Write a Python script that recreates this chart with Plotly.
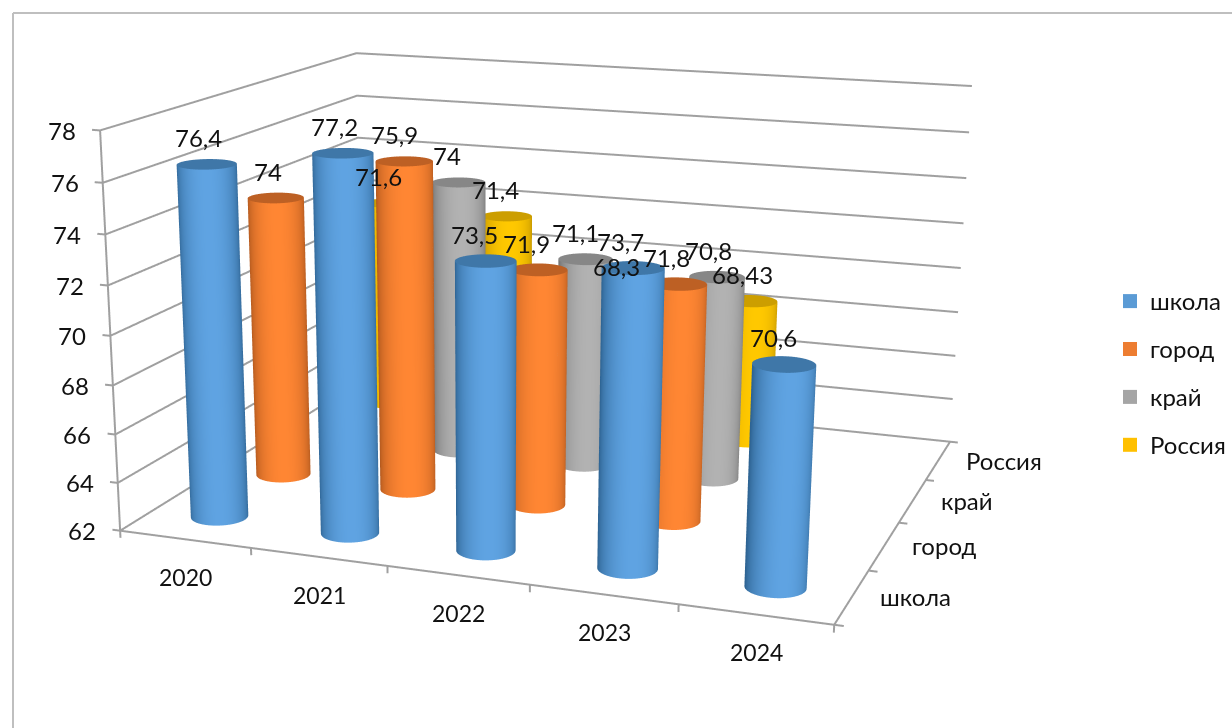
import numpy as np
import plotly.graph_objects as go

years = ["2020", "2021", "2022", "2023", "2024"]
series_names = ["школа", "город", "край", "Россия"]
shkola = [76.4, 77.2, 73.5, 73.7, 70.6]
gorod = [74, 75.9, 71.9, 71.8, None]
krai = [None, 74, 71.1, 70.8, None]
rossiya = [71.6, 71.4, 68.3, 68.43, None]
z_ticks = [62, 64, 66, 68, 70, 72, 74, 76, 78]

series_values = [shkola, gorod, krai, rossiya]
legend_colors = ["#5B9BD5", "#ED7D31", "#A5A5A5", "#FFC000"]
edge_colors = ["#2E6493", "#AD561D", "#6E6E6E", "#B58A00"]
light_colors = ["#5FA3E2", "#FF8633", "#B2B2B2", "#FFC800"]
cap_colors = ["#3F77A8", "#BD6024", "#878787", "#CC9E00"]
label_xshifts = [
    [-8, -8, -11, -13, -11],
    [-8, -10, -12, -11, 0],
    [0, -12, -10, -9, 0],
    [-11, -11, -10, -9, 0],
]

FONT = "Lato, 'Open Sans', sans-serif"
TEXT = "#111111"
GRID = "#A0A0A0"

# page geometry: the plot box is larger than the window so that the camera
# has the long focal length of the reference; it is offset by CSS below
W, H = 1416, 1903
OX, OY = 184, 510
px = lambda x: (x + OX) / W
py = lambda y: 1 - (y + OY) / H

K = 0.5
eye = dict(x=2.0746 * K, y=-6.072 * K, z=1.5427 * K)
center = dict(x=-0.0617 * K, y=-0.149 * K, z=-0.389 * K)
up = dict(x=-0.1038, y=0.2745, z=0.9559)

# hidden axis ranges are a little wider than the frame, so that tick marks fit
x_range = [-0.2, 5.2]
y_range = [-0.2, 4.2]
z_range = [61.5, 78.5]
aspect = dict(x=1.0 * 5.4 / 5, y=0.825 * 4.4 / 4, z=0.554 * 17 / 16)

R = 0.2
Ry = 0.194
theta = np.linspace(0, 2 * np.pi, 97)
view = np.arctan2(eye["y"], eye["x"])

fig = go.Figure()

# frame: grid lines on both walls, axis edges and tick marks
z0, z1 = z_ticks[0], z_ticks[-1]
fx, fy, fz = [], [], []
def seg(*pts):
    for p in pts:
        fx.append(p[0]); fy.append(p[1]); fz.append(p[2])
    fx.append(None); fy.append(None); fz.append(None)
for t in z_ticks:
    seg((0, 0, t), (0, 4, t), (5, 4, t))
    seg((-0.06, 0, t), (0, 0, t))
seg((0, 0, z0), (0, 0, z1))
seg((0, 0, z0), (5, 0, z0), (5, 4, z0))
for i in range(6):
    seg((i, 0, z0), (i, 0, z0 - 0.3))
for i in range(5):
    seg((5, i, z0), (5.06, i, z0))
fig.add_trace(go.Scatter3d(x=fx, y=fy, z=fz, mode="lines", line=dict(color=GRID, width=4),
                           hoverinfo="skip", showlegend=False))

for si, vals in enumerate(series_values):
    scale = [[0, edge_colors[si]], [0.5, edge_colors[si]], [1, light_colors[si]]]
    for xi, v in enumerate(vals):
        if v is None:
            continue
        cx, cy = xi + 0.5, si + 0.5
        X = np.vstack([cx + R * np.cos(theta)] * 2)
        Y = np.vstack([cy + Ry * np.sin(theta)] * 2)
        Z = np.vstack([np.full_like(theta, 62.0), np.full_like(theta, float(v))])
        shade = np.cos(theta - view - 0.15)
        C = np.vstack([shade, shade])
        common = dict(showscale=False, hoverinfo="skip", showlegend=False,
                      lighting=dict(ambient=1, diffuse=0, specular=0, roughness=1, fresnel=0))
        fig.add_trace(go.Surface(x=X, y=Y, z=Z, surfacecolor=C, cmin=-1, cmax=1, colorscale=scale, **common))
        Xc = np.vstack([np.full_like(theta, cx), X[0]])
        Yc = np.vstack([np.full_like(theta, cy), Y[0]])
        Zc = np.full_like(Xc, float(v))
        fig.add_trace(go.Surface(x=Xc, y=Yc, z=Zc, surfacecolor=np.zeros_like(Xc), cmin=-1, cmax=1,
                                 colorscale=[[0, cap_colors[si]], [1, cap_colors[si]]], **common))

for si, name in enumerate(series_names):
    fig.add_trace(go.Scatter3d(x=[None], y=[None], z=[None], mode="markers", name=name,
                               legendgroup=name,
                               marker=dict(symbol="square", size=14, color=legend_colors[si])))

ann = []
for si, vals in enumerate(series_values):
    for xi, v in enumerate(vals):
        if v is None:
            continue
        ann.append(dict(x=xi + 0.5, y=si + 0.5, z=v, text=str(v).replace(".", ","), showarrow=False,
                        xanchor="center", yanchor="bottom", xshift=label_xshifts[si][xi], yshift=10,
                        font=dict(family=FONT, size=24, color=TEXT)))
for xi, yr in enumerate(years):
    ann.append(dict(x=xi + 0.5, y=0, z=62, text=yr, showarrow=False, xanchor="center", yanchor="middle",
                    xshift=1, yshift=-38, font=dict(family=FONT, size=23, color=TEXT)))
for si, name in enumerate(series_names):
    ann.append(dict(x=5, y=si + 0.5, z=62, text=name, showarrow=False, xanchor="left", yanchor="middle",
                    xshift=26, yshift=0, font=dict(family=FONT, size=24, color=TEXT)))
for t in z_ticks:
    ann.append(dict(x=0, y=0, z=t, text=str(t), showarrow=False, xanchor="right", yanchor="middle",
                    xshift=-22, yshift=0, font=dict(family=FONT, size=24, color=TEXT)))

axis_common = dict(showbackground=False, showspikes=False, zeroline=False, title=dict(text=""),
                   showline=False, showgrid=False, showticklabels=False, ticks="")
fig.update_layout(
    width=W, height=H, margin=dict(l=0, r=0, t=0, b=0, pad=0), autosize=False,
    paper_bgcolor="white", plot_bgcolor="white",
    font=dict(family=FONT, size=21, color=TEXT),
    scene=dict(
        domain=dict(x=[0, 1], y=[0, 1]),
        aspectmode="manual", aspectratio=aspect,
        camera=dict(eye=eye, center=center, up=up, projection=dict(type="perspective")),
        dragmode=False,
        xaxis=dict(range=x_range, **axis_common),
        yaxis=dict(range=y_range, **axis_common),
        zaxis=dict(range=z_range, **axis_common),
        annotations=ann,
    ),
    legend=dict(x=px(1110), y=py(279), xanchor="left", yanchor="top", bgcolor="rgba(0,0,0,0)",
                font=dict(family=FONT, size=24, color=TEXT), tracegroupgap=13.7, itemclick=False,
                itemdoubleclick=False),
    shapes=[
        dict(type="line", xref="paper", yref="paper", x0=px(13), x1=px(1232), y0=py(13), y1=py(13),
             line=dict(color="#BFBFBF", width=2)),
        dict(type="line", xref="paper", yref="paper", x0=px(13), x1=px(13), y0=py(13), y1=py(728),
             line=dict(color="#BFBFBF", width=2)),
    ],
)

post = f"""
var gd = document.getElementById('{{plot_id}}');
gd.style.position = 'fixed';
gd.style.left = '-{OX}px';
gd.style.top = '-{OY}px';
document.documentElement.style.overflow = 'hidden';
document.body.style.overflow = 'hidden';
"""
fig.write_html("out.html", post_script=post, config=dict(displayModeBar=False))
